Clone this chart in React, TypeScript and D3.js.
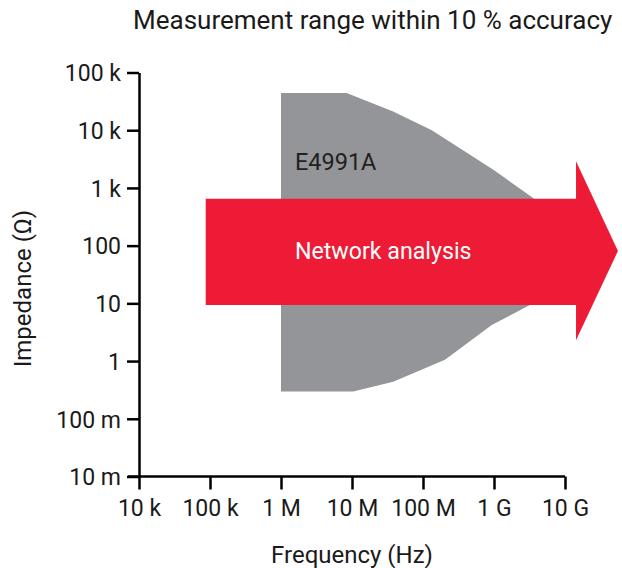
import React from "react";
import * as d3 from "d3";

// axis ticks
const freqTicks = [1e4, 1e5, 1e6, 1e7, 1e8, 1e9, 1e10];
const freqLabels = ["10 k", "100 k", "1 M", "10 M", "100 M", "1 G", "10 G"];
const impTicks = [0.01, 0.1, 1, 10, 100, 1e3, 1e4, 1e5];
const impLabels = ["10 m", "100 m", "1", "10", "100", "1 k", "10 k", "100 k"];

// E4991A measurement range outline (upper edge then lower edge, going round)
const rangeFreq = [1e6, 8.4e6, 3.8e7, 1.33e8, 9.8e8, 3.6e9, 6.2e9, 3.2e9, 9.3e8, 2.04e8, 3.8e7, 1.04e7, 1e6];
const rangeImp = [44000, 44000, 21000, 10000, 2060, 665, 85, 9.4, 4.2, 1.05, 0.44, 0.296, 0.296];

// network analysis arrow
const arrowFreq = [8.7e4, 1.43e10, 1.43e10, 5.57e10, 1.43e10, 1.43e10, 8.7e4];
const arrowImp = [650, 650, 2900, 81, 2.3, 9.4, 9.4];

const width = 622;
const height = 568;
const font = "Roboto, 'Noto Sans', sans-serif";

export default function App() {
  const x = d3.scaleLog().domain([1e4, 1e10]).range([139, 565]);
  const y = d3.scaleLog().domain([0.01, 1e5]).range([476.5, 72.5]);

  const rangePath = d3
    .line<number>()
    .x((d) => x(d))
    .y((d, i) => y(rangeImp[i]))
    .curve(d3.curveLinearClosed)(rangeFreq);

  const arrowPath = d3
    .line<number>()
    .x((d) => x(d))
    .y((d, i) => y(arrowImp[i]))
    .curve(d3.curveLinearClosed)(arrowFreq);

  const xAxisRef = React.useRef<SVGGElement>(null);
  const yAxisRef = React.useRef<SVGGElement>(null);

  React.useEffect(() => {
    const xAxis = d3
      .axisBottom(x)
      .tickValues(freqTicks)
      .tickFormat((d, i) => freqLabels[i])
      .tickSize(13)
      .tickSizeOuter(0)
      .tickPadding(8);
    const yAxis = d3
      .axisLeft(y)
      .tickValues(impTicks)
      .tickFormat((d, i) => impLabels[i])
      .tickSize(12)
      .tickSizeOuter(0)
      .tickPadding(6);

    const gx = d3.select(xAxisRef.current).call(xAxis);
    const gy = d3.select(yAxisRef.current).call(yAxis);
    [gx, gy].forEach((g) => {
      g.selectAll("path.domain").attr("stroke", "#000").attr("stroke-width", 2.5);
      g.selectAll(".tick line").attr("stroke", "#000").attr("stroke-width", 2.5);
      g.selectAll(".tick text")
        .attr("fill", "#1a1a1a")
        .style("font-family", font)
        .style("font-size", "23px");
    });
    gx.select("path.domain").attr("d", `M${x.range()[0] - 11},0H${x.range()[1]}`);
    gx.selectAll(".tick text").attr("dy", "0.8em");
    gy.selectAll(".tick text").attr("dy", "0.36em");
  }, []);

  return (
    <svg
      width={width}
      height={height}
      style={{ position: "absolute", left: 0, top: 0, background: "#fff" }}
    >
      <text
        x={133}
        y={28.5}
        style={{ fontFamily: font, fontSize: 26 }}
        fill="#1a1a1a"
      >
        Measurement range within 10 % accuracy
      </text>

      <path d={rangePath ?? ""} fill="#939598" />
      <text
        x={x(1.57e6)}
        y={y(2060)}
        style={{ fontFamily: font, fontSize: 23.5 }}
        fill="#231f20"
      >
        E4991A
      </text>

      <path d={arrowPath ?? ""} fill="#ed1b35" />
      <text
        x={x(1.57e6)}
        y={y(81)}
        dy="0.36em"
        style={{ fontFamily: font, fontSize: 23.2 }}
        fill="#fff"
      >
        Network analysis
      </text>

      <g ref={xAxisRef} transform={`translate(0,${y.range()[0]})`} />
      <g ref={yAxisRef} transform={`translate(${x.range()[0]},0)`} />

      <text
        x={352}
        y={563}
        textAnchor="middle"
        style={{ fontFamily: font, fontSize: 24 }}
        fill="#1a1a1a"
      >
        Frequency (Hz)
      </text>
      <text
        transform={`translate(31,288.5) rotate(-90)`}
        textAnchor="middle"
        style={{ fontFamily: font, fontSize: 24 }}
        fill="#1a1a1a"
      >
        Impedance (Ω)
      </text>
    </svg>
  );
}
